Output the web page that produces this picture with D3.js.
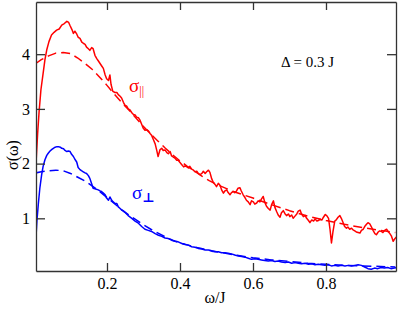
<!DOCTYPE html>
<html>
<head>
<meta charset="utf-8">
<script src="https://cdn.jsdelivr.net/npm/d3@7"></script>
<style>
  body { margin: 0; background: #fff; }
  svg { display: block; }
  svg text { font-family: "Liberation Serif", "Times New Roman", Times, "Nimbus Roman", "DejaVu Serif", "Noto Serif", serif; }
</style>
</head>
<body>
<div id="chart"></div>
<script>
var width = 399;
var height = 309;
var margin = ({ top: 2, right: 3, bottom: 38, left: 36 });

// axis ticks
var xTicks = [0.2, 0.4, 0.6, 0.8];
var yTicks = [1, 2, 3, 4];

// sigma parallel, numerical result (omega/J, sigma)
var sigmaParSolid = [
  [0.005,1.95],[0.010,2.55],[0.014,2.95],[0.019,3.35],[0.025,3.65],[0.030,3.90],[0.035,4.08],
  [0.041,4.23],[0.048,4.35],[0.055,4.40],[0.062,4.44],[0.069,4.46],[0.076,4.53],[0.083,4.56],
  [0.090,4.60],[0.095,4.58],[0.099,4.52],[0.104,4.45],[0.108,4.38],[0.112,4.42],[0.117,4.37],
  [0.121,4.31],[0.126,4.29],[0.131,4.22],[0.135,4.20],[0.140,4.18],[0.144,4.13],[0.149,4.10],
  [0.153,4.07],[0.158,4.12],[0.162,4.10],[0.167,3.98],[0.172,3.92],[0.176,3.88],[0.181,3.83],
  [0.186,3.78],[0.190,3.74],[0.195,3.62],[0.199,3.55],[0.204,3.52],[0.208,3.62],[0.211,3.45],
  [0.216,3.32],[0.222,3.30],[0.227,3.30],[0.231,3.26],[0.236,3.23],[0.240,3.20],[0.245,3.12],
  [0.249,3.07],[0.254,3.05],[0.258,3.00],[0.263,2.98],[0.268,2.93],[0.272,2.90],[0.277,2.89],
  [0.281,2.85],[0.286,2.84],[0.290,2.80],[0.295,2.72],[0.299,2.65],[0.304,2.61],[0.309,2.62],
  [0.313,2.60],[0.318,2.55],[0.322,2.52],[0.327,2.44],[0.332,2.36],[0.336,2.25],[0.340,2.13],
  [0.345,2.25],[0.350,2.28],[0.354,2.24],[0.359,2.25],[0.364,2.20],[0.368,2.18],[0.373,2.22],
  [0.377,2.14],[0.382,2.12],[0.386,2.10],[0.391,2.06],[0.395,2.06],[0.400,2.02],[0.405,1.98],
  [0.410,1.94],[0.414,1.96],[0.419,1.94],[0.423,1.92],[0.427,1.95],[0.432,1.90],[0.437,1.88],
  [0.441,1.85],[0.446,1.86],[0.450,1.82],[0.455,1.80],[0.460,1.82],[0.464,1.86],[0.469,1.82],
  [0.473,1.85],[0.478,1.88],[0.482,1.84],[0.487,1.72],[0.491,1.66],[0.496,1.62],[0.500,1.58],
  [0.505,1.64],[0.510,1.60],[0.514,1.52],[0.519,1.46],[0.523,1.50],[0.528,1.52],[0.532,1.47],
  [0.537,1.43],[0.541,1.47],[0.546,1.49],[0.550,1.47],[0.555,1.50],[0.559,1.55],[0.564,1.56],
  [0.568,1.50],[0.573,1.43],[0.578,1.38],[0.582,1.33],[0.587,1.30],[0.592,1.25],[0.596,1.32],
  [0.601,1.30],[0.605,1.26],[0.610,1.28],[0.614,1.32],[0.619,1.30],[0.623,1.35],[0.628,1.40],
  [0.632,1.30],[0.637,1.22],[0.642,1.18],[0.647,1.15],[0.651,1.25],[0.656,1.32],[0.660,1.20],
  [0.665,1.12],[0.669,1.06],[0.674,1.02],[0.678,1.10],[0.683,1.14],[0.688,1.08],[0.692,1.05],
  [0.697,1.08],[0.701,1.03],[0.706,1.06],[0.710,1.00],[0.715,1.04],[0.720,1.08],[0.724,1.13],
  [0.729,1.15],[0.733,1.08],[0.738,1.03],[0.743,1.05],[0.747,1.00],[0.752,0.96],[0.756,0.92],
  [0.761,0.97],[0.766,0.95],[0.770,0.99],[0.775,0.95],[0.779,0.96],[0.784,0.98],[0.789,0.97],
  [0.793,1.02],[0.798,1.07],[0.802,1.05],[0.807,1.00],[0.811,0.80],[0.815,0.55],[0.819,0.75],
  [0.824,0.95],[0.828,0.97],[0.833,1.02],[0.838,1.05],[0.842,1.00],[0.847,0.92],[0.851,0.85],
  [0.856,0.82],[0.860,0.84],[0.865,0.80],[0.870,0.82],[0.874,0.79],[0.879,0.77],[0.883,0.75],
  [0.888,0.74],[0.893,0.73],[0.897,0.78],[0.902,0.80],[0.906,0.85],[0.911,0.89],[0.915,0.92],
  [0.920,0.90],[0.924,0.85],[0.929,0.78],[0.934,0.72],[0.938,0.70],[0.943,0.75],[0.947,0.77],
  [0.952,0.76],[0.956,0.74],[0.961,0.78],[0.966,0.80],[0.970,0.76],[0.975,0.72],[0.979,0.68],
  [0.984,0.58],[0.988,0.62],[0.993,0.66]
];

// sigma parallel, analytic (dashed)
var sigmaParDashed = [
  [0.005,3.83],[0.02,3.90],[0.04,3.97],[0.06,4.02],[0.08,4.03],[0.10,4.01],[0.12,3.93],
  [0.14,3.83],[0.16,3.72],[0.18,3.58],[0.20,3.43],[0.22,3.27],[0.24,3.12],[0.26,2.98],
  [0.28,2.83],[0.30,2.68],[0.32,2.54],[0.34,2.41],[0.36,2.28],[0.38,2.16],[0.40,2.05],
  [0.42,1.95],[0.44,1.86],[0.46,1.77],[0.48,1.69],[0.50,1.62],[0.55,1.48],[0.60,1.37],
  [0.65,1.25],[0.70,1.14],[0.75,1.04],[0.80,0.96],[0.85,0.89],[0.90,0.83],[0.95,0.78],
  [0.99,0.74]
];

// sigma perpendicular, numerical result
var sigmaPerpSolid = [
  [0.005,0.60],[0.008,0.95],[0.012,1.27],[0.016,1.55],[0.021,1.80],[0.025,1.95],[0.030,2.07],
  [0.035,2.15],[0.039,2.19],[0.044,2.23],[0.049,2.26],[0.053,2.28],[0.058,2.30],[0.063,2.31],
  [0.067,2.31],[0.072,2.30],[0.076,2.28],[0.081,2.27],[0.085,2.24],[0.090,2.22],[0.094,2.23],
  [0.099,2.22],[0.103,2.17],[0.108,2.13],[0.112,2.08],[0.117,2.03],[0.121,1.93],[0.126,1.89],
  [0.130,1.87],[0.135,1.85],[0.140,1.83],[0.144,1.82],[0.149,1.78],[0.153,1.73],[0.158,1.63],
  [0.162,1.55],[0.167,1.54],[0.171,1.53],[0.176,1.52],[0.181,1.50],[0.185,1.49],[0.190,1.46],
  [0.195,1.43],[0.199,1.37],[0.204,1.33],[0.208,1.39],[0.213,1.33],[0.217,1.30],[0.222,1.27],
  [0.227,1.27],[0.231,1.21],[0.236,1.18],[0.240,1.15],[0.245,1.13],[0.249,1.11],[0.258,1.05],
  [0.268,1.00],[0.277,0.95],[0.286,0.91],[0.295,0.85],[0.304,0.80],[0.313,0.78],[0.322,0.76],
  [0.332,0.72],[0.341,0.69],[0.350,0.67],[0.359,0.64],[0.368,0.63],[0.377,0.60],[0.386,0.58],
  [0.395,0.57],[0.405,0.54],[0.414,0.52],[0.423,0.51],[0.432,0.48],[0.441,0.47],[0.450,0.45],
  [0.460,0.44],[0.469,0.42],[0.478,0.42],[0.487,0.40],[0.496,0.39],[0.505,0.39],[0.514,0.37],
  [0.523,0.37],[0.532,0.36],[0.541,0.35],[0.550,0.33],[0.560,0.31],[0.569,0.30],[0.578,0.29],
  [0.587,0.27],[0.596,0.25],[0.605,0.26],[0.614,0.25],[0.623,0.24],[0.632,0.23],[0.642,0.22],
  [0.651,0.23],[0.660,0.21],[0.669,0.22],[0.678,0.20],[0.688,0.19],[0.697,0.20],[0.706,0.18],
  [0.715,0.19],[0.724,0.18],[0.733,0.17],[0.743,0.18],[0.752,0.16],[0.761,0.17],[0.770,0.15],
  [0.779,0.16],[0.788,0.15],[0.797,0.14],[0.806,0.15],[0.815,0.13],[0.824,0.14],[0.833,0.13],
  [0.843,0.14],[0.852,0.13],[0.861,0.14],[0.870,0.13],[0.879,0.14],[0.888,0.15],[0.897,0.14],
  [0.906,0.11],[0.915,0.08],[0.924,0.07],[0.933,0.09],[0.942,0.08],[0.951,0.10],[0.960,0.09],
  [0.969,0.10],[0.978,0.08],[0.987,0.09],[0.993,0.10]
];

// sigma perpendicular, analytic (dashed)
var sigmaPerpDashed = [
  [0.005,1.83],[0.02,1.85],[0.04,1.87],[0.06,1.88],[0.08,1.87],[0.10,1.82],[0.12,1.75],
  [0.14,1.68],[0.16,1.59],[0.18,1.49],[0.20,1.38],[0.22,1.27],[0.24,1.16],[0.26,1.06],
  [0.28,0.97],[0.30,0.88],[0.32,0.80],[0.34,0.73],[0.36,0.66],[0.38,0.60],[0.40,0.55],
  [0.45,0.46],[0.50,0.39],[0.55,0.33],[0.60,0.28],[0.65,0.24],[0.70,0.21],[0.75,0.18],
  [0.80,0.16],[0.85,0.14],[0.90,0.13],[0.95,0.12],[0.99,0.11]
];

var svg = d3.select("#chart")
    .append("svg")
    .attr("width", width)
    .attr("height", height);

var x = d3.scaleLinear()
    .domain([0.0055, 0.9918])
    .range([margin.left, width - margin.right]);

var y = d3.scaleLinear()
    .domain([0.037, 4.954])
    .range([height - margin.bottom, margin.top]);

svg.append("clipPath")
    .attr("id", "plot-clip")
    .append("rect")
    .attr("x", margin.left)
    .attr("y", margin.top)
    .attr("width", width - margin.left - margin.right)
    .attr("height", height - margin.top - margin.bottom);

// courbes
var line = d3.line()
    .x(d => x(d[0]))
    .y(d => y(d[1]));

var curves = [
  { data: sigmaParDashed, color: "#ff0000", dash: "9,5" },
  { data: sigmaPerpDashed, color: "#0000ff", dash: "9,5" },
  { data: sigmaParSolid, color: "#ff0000", dash: null },
  { data: sigmaPerpSolid, color: "#0000ff", dash: null }
];

svg.append("g")
    .attr("clip-path", "url(#plot-clip)")
    .selectAll("path")
    .data(curves)
    .enter()
    .append("path")
    .attr("d", d => line(d.data))
    .attr("fill", "none")
    .attr("stroke", d => d.color)
    .attr("stroke-width", 1.5)
    .attr("stroke-dasharray", d => d.dash)
    .attr("stroke-linejoin", "round");

// axes, ticks pointing inward on all four sides
var xBottom = d3.axisBottom(x).tickValues(xTicks).tickSize(-8).tickPadding(7).tickSizeOuter(0);
var xTop = d3.axisTop(x).tickValues(xTicks).tickSize(-8).tickFormat("").tickSizeOuter(0);
var yLeft = d3.axisLeft(y).tickValues(yTicks).tickSize(-9).tickPadding(6).tickFormat(d3.format("d")).tickSizeOuter(0);
var yRight = d3.axisRight(y).tickValues(yTicks).tickSize(-9).tickFormat("").tickSizeOuter(0);

function styleAxis(g) {
    g.attr("font-family", null).attr("font-size", null);
    g.selectAll("path, line").attr("stroke", "#333").attr("stroke-width", 1.3);
    g.selectAll("text")
        .attr("fill", "#000")
        .style("font-size", "16px");
}

svg.append("g")
    .attr("transform", `translate(0,${height - margin.bottom})`)
    .call(xBottom)
    .call(styleAxis);

svg.append("g")
    .attr("transform", `translate(0,${margin.top})`)
    .call(xTop)
    .call(styleAxis);

svg.append("g")
    .attr("transform", `translate(${margin.left},0)`)
    .call(yLeft)
    .call(styleAxis);

svg.append("g")
    .attr("transform", `translate(${width - margin.right},0)`)
    .call(yRight)
    .call(styleAxis);

// titres des axes
svg.append("text")
    .attr("x", 215)
    .attr("y", 303)
    .attr("text-anchor", "middle")
    .style("font-size", "16px")
    .text("ω/J");

svg.append("text")
    .attr("transform", "translate(18,155) rotate(-90)")
    .attr("text-anchor", "middle")
    .style("font-size", "16px")
    .text("σ(ω)");

// annotations
svg.append("text")
    .attr("x", 281)
    .attr("y", 67)
    .style("font-size", "15px")
    .text("Δ = 0.3 J");

var labPar = svg.append("text")
    .attr("x", 129)
    .attr("y", 92)
    .attr("fill", "#ff0000")
    .style("font-size", "19px");
labPar.append("tspan").text("σ");
labPar.append("tspan")
    .attr("dy", 3)
    .style("font-size", "12px")
    .text("||");

var labPerp = svg.append("text")
    .attr("x", 132)
    .attr("y", 199)
    .attr("fill", "#0000ff")
    .style("font-size", "19px");
labPerp.append("tspan").text("σ");
labPerp.append("tspan")
    .attr("dy", 3)
    .style("font-size", "13px")
    .style("font-weight", "bold")
    .text("⊥");
</script>
</body>
</html>
